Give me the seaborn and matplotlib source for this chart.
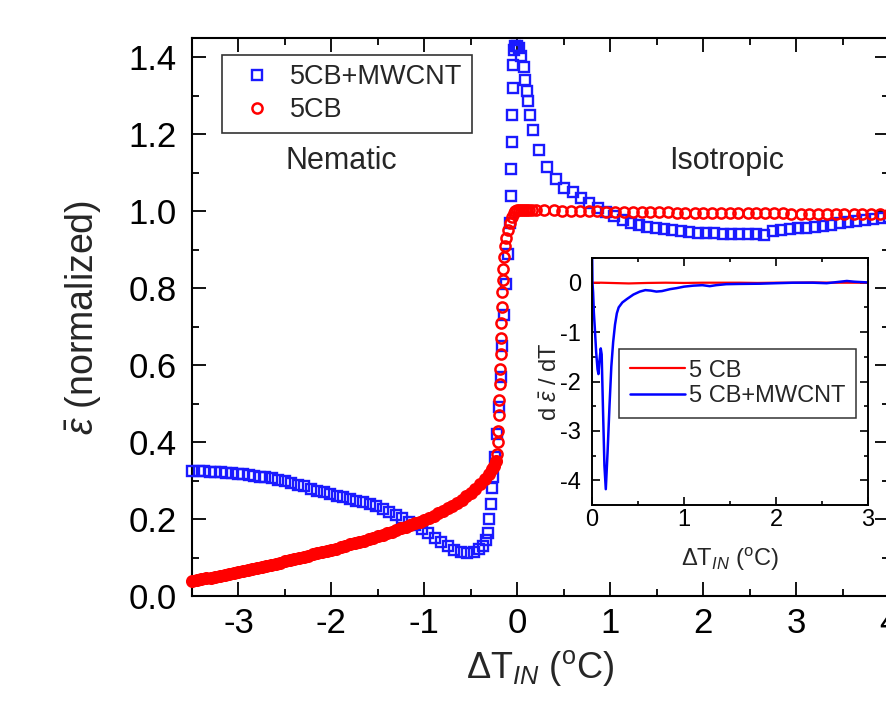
import numpy as np
import pandas as pd
import matplotlib
matplotlib.use("Agg")
import matplotlib.pyplot as plt
import seaborn as sns
from matplotlib.ticker import MultipleLocator, FormatStrFormatter

# ---------------- main panel data ----------------
cnt_x = [-3.50, -3.43, -3.37, -3.31, -3.25, -3.19, -3.13, -3.07, -3.01, -2.95,
         -2.89, -2.83, -2.77, -2.71, -2.64, -2.57, -2.50, -2.43, -2.36, -2.29,
         -2.22, -2.15, -2.08, -2.01, -1.94, -1.87, -1.80, -1.73, -1.66, -1.59,
         -1.52, -1.45, -1.38, -1.31, -1.24, -1.17, -1.10, -1.03, -0.96, -0.89,
         -0.82, -0.75, -0.68, -0.61, -0.54, -0.47, -0.41, -0.37, -0.34, -0.32,
         -0.30, -0.28, -0.27, -0.26, -0.24, -0.22, -0.20, -0.18, -0.16, -0.14,
         -0.12, -0.10, -0.08, -0.07, -0.065, -0.06, -0.055, -0.05, -0.045, -0.04,
         -0.02, 0.00, 0.02, 0.04, 0.068, 0.083, 0.10, 0.118, 0.14, 0.165,
         0.237, 0.32, 0.416, 0.506, 0.595, 0.686, 0.775, 0.865, 0.955, 1.044,
         1.134, 1.22, 1.31, 1.40, 1.49, 1.58, 1.67, 1.76, 1.85, 1.94,
         2.03, 2.12, 2.21, 2.30, 2.39, 2.48, 2.57, 2.66, 2.75, 2.84,
         2.93, 3.02, 3.11, 3.20, 3.29, 3.38, 3.47, 3.56, 3.65, 3.74,
         3.83, 3.92, 4.00]
cnt_y = [0.326, 0.326, 0.324, 0.323, 0.322, 0.321, 0.320, 0.319, 0.317, 0.316,
         0.314, 0.312, 0.310, 0.308, 0.306, 0.302, 0.299, 0.294, 0.289, 0.285,
         0.278, 0.274, 0.269, 0.264, 0.260, 0.256, 0.252, 0.247, 0.243, 0.238,
         0.233, 0.226, 0.219, 0.211, 0.202, 0.193, 0.184, 0.174, 0.164, 0.152,
         0.140, 0.129, 0.120, 0.114, 0.112, 0.115, 0.121, 0.130, 0.145, 0.165,
         0.200, 0.240, 0.280, 0.310, 0.360, 0.420, 0.490, 0.570, 0.650, 0.730,
         0.810, 0.890, 0.970, 1.040, 1.110, 1.180, 1.250, 1.320, 1.380, 1.420,
         1.430, 1.430, 1.424, 1.403, 1.374, 1.342, 1.313, 1.286, 1.249, 1.212,
         1.160, 1.114, 1.084, 1.060, 1.049, 1.034, 1.021, 1.008, 0.997, 0.987,
         0.978, 0.970, 0.965, 0.960, 0.957, 0.953, 0.950, 0.948, 0.946, 0.944,
         0.942, 0.942, 0.941, 0.941, 0.941, 0.941, 0.941, 0.939, 0.948, 0.950,
         0.953, 0.955, 0.957, 0.959, 0.962, 0.965, 0.968, 0.971, 0.974, 0.977,
         0.979, 0.982, 0.984]

# 5CB: densely sampled nematic part (points overlap into a solid band)
cb_dense_x = [-3.50, -3.45, -3.40, -3.35, -3.30, -3.25, -3.20, -3.15, -3.10, -3.05,
              -3.00, -2.95, -2.90, -2.85, -2.80, -2.75, -2.70, -2.65, -2.60, -2.55,
              -2.50, -2.45, -2.40, -2.35, -2.30, -2.25, -2.20, -2.15, -2.10, -2.05,
              -2.00, -1.95, -1.90, -1.85, -1.80, -1.75, -1.70, -1.65, -1.60, -1.55,
              -1.50, -1.45, -1.40, -1.35, -1.30, -1.25, -1.20, -1.15, -1.10, -1.05,
              -1.00, -0.95, -0.90, -0.85, -0.80, -0.75, -0.70, -0.65, -0.60, -0.55,
              -0.50, -0.45, -0.40, -0.35, -0.30, -0.27, -0.25, -0.23]
cb_dense_y = [0.039, 0.041, 0.043, 0.046, 0.048, 0.050, 0.053, 0.055, 0.057, 0.060,
              0.062, 0.065, 0.068, 0.070, 0.073, 0.076, 0.079, 0.081, 0.084, 0.087,
              0.090, 0.093, 0.096, 0.099, 0.102, 0.105, 0.108, 0.111, 0.114, 0.117,
              0.120, 0.123, 0.127, 0.130, 0.134, 0.137, 0.141, 0.144, 0.148, 0.151,
              0.155, 0.159, 0.163, 0.167, 0.171, 0.176, 0.180, 0.184, 0.189, 0.193,
              0.198, 0.203, 0.209, 0.215, 0.221, 0.228, 0.235, 0.242, 0.250, 0.259,
              0.268, 0.278, 0.290, 0.303, 0.318, 0.329, 0.338, 0.350]
# 5CB: transition and isotropic part
cb_x = [-0.22, -0.21, -0.205, -0.20, -0.195, -0.19, -0.185, -0.18, -0.175, -0.17,
        -0.165, -0.16, -0.155, -0.15, -0.14, -0.13, -0.12, -0.10, -0.08, -0.06,
        -0.04, -0.02, 0.00, 0.02, 0.04, 0.06, 0.08, 0.10, 0.13, 0.16,
        0.20, 0.29, 0.39, 0.48, 0.58, 0.67, 0.77, 0.86, 0.96, 1.05,
        1.15, 1.24, 1.34, 1.43, 1.53, 1.62, 1.72, 1.81, 1.91, 2.00,
        2.10, 2.19, 2.29, 2.38, 2.48, 2.57, 2.67, 2.76, 2.86, 2.95,
        3.05, 3.14, 3.24, 3.33, 3.43, 3.52, 3.62, 3.71, 3.81, 3.90, 4.00]
cb_y = [0.370, 0.400, 0.430, 0.470, 0.510, 0.550, 0.590, 0.630, 0.670, 0.710,
        0.750, 0.790, 0.820, 0.850, 0.880, 0.910, 0.930, 0.950, 0.970, 0.985,
        0.995, 1.000, 1.003, 1.004, 1.004, 1.004, 1.004, 1.004, 1.004, 1.003,
        1.003, 1.002, 1.002, 1.001, 1.001, 1.000, 1.000, 1.000, 0.999, 0.999,
        0.998, 0.998, 0.998, 0.997, 0.997, 0.997, 0.996, 0.996, 0.996, 0.996,
        0.995, 0.995, 0.995, 0.995, 0.994, 0.994, 0.994, 0.994, 0.994, 0.993,
        0.993, 0.993, 0.993, 0.993, 0.992, 0.992, 0.992, 0.992, 0.992, 0.992, 0.992]

# ---------------- inset data ----------------
d_cb_x = [0.00, 0.10, 0.20, 0.30, 0.40, 0.50, 0.60, 0.80, 1.00, 1.20, 1.40,
          1.60, 1.80, 2.00, 2.20, 2.40, 2.60, 2.80, 3.00]
d_cb_y = [0.00, 0.00, -0.005, -0.01, -0.015, -0.01, -0.005, 0.00, -0.005, 0.00, 0.00,
          0.00, -0.005, 0.00, 0.00, 0.005, 0.00, 0.00, 0.00]

d_cnt_x = [0.000, 0.005, 0.012, 0.020, 0.030, 0.045, 0.060, 0.070, 0.080, 0.095,
           0.105, 0.120, 0.135, 0.150, 0.170, 0.190, 0.210, 0.230, 0.250, 0.270,
           0.290, 0.330, 0.380, 0.450, 0.520, 0.580, 0.640, 0.700, 0.760, 0.850,
           0.920, 1.000, 1.100, 1.200, 1.280, 1.350, 1.460, 1.600, 1.830, 2.000,
           2.190, 2.400, 2.550, 2.650, 2.770, 2.850, 3.000]
d_cnt_y = [0.80, 0.00, -0.20, -0.60, -0.90, -1.40, -1.75, -1.85, -1.60, -1.33,
           -1.45, -2.60, -3.70, -4.18, -3.40, -2.50, -1.70, -1.20, -0.85, -0.62,
           -0.50, -0.40, -0.33, -0.24, -0.18, -0.15, -0.16, -0.18, -0.17, -0.13,
           -0.11, -0.08, -0.06, -0.05, -0.07, -0.05, -0.03, -0.025, -0.02, -0.01,
           0.00, 0.00, -0.01, 0.01, 0.035, 0.02, 0.005]

main_xticks = [-3, -2, -1, 0, 1, 2, 3, 4]
main_yticks = [0.0, 0.2, 0.4, 0.6, 0.8, 1.0, 1.2, 1.4]

# ---------------- style ----------------
sns.set_theme(style="ticks")
plt.rcParams["font.family"] = ["Liberation Sans", "DejaVu Sans"]
plt.rcParams["mathtext.fontset"] = "custom"
plt.rcParams["mathtext.rm"] = "Liberation Sans"
plt.rcParams["mathtext.it"] = "Liberation Sans:italic"
plt.rcParams["mathtext.bf"] = "Liberation Sans:bold"
plt.rcParams["axes.unicode_minus"] = False
plt.rcParams["axes.edgecolor"] = "black"
plt.rcParams["xtick.color"] = "black"
plt.rcParams["ytick.color"] = "black"

BLUE = "#1a1aff"
RED = "#ff0000"

W, H = 886, 701
fig = plt.figure(figsize=(W / 100, H / 100), dpi=100)
fig.patch.set_facecolor("white")

# main axes (right edge extends slightly past the figure, as in the reference)
ax = fig.add_axes([192 / W, 105 / H, 697 / W, 558 / H])
df_cnt = pd.DataFrame({"x": cnt_x, "y": cnt_y})
df_cb = pd.DataFrame({"x": cb_x, "y": cb_y})
df_cb_dense = pd.DataFrame({"x": cb_dense_x, "y": cb_dense_y})

sns.lineplot(data=df_cnt, x="x", y="y", ax=ax, estimator=None, sort=False,
             linestyle="", marker="s", markersize=6.8, markerfacecolor="none",
             markeredgecolor=BLUE, markeredgewidth=1.7, color=BLUE,
             label="5CB+MWCNT", clip_on=False, zorder=3)
sns.lineplot(data=df_cb_dense, x="x", y="y", ax=ax, estimator=None, sort=False,
             linestyle="", marker="o", markersize=7.6, markerfacecolor=RED,
             markeredgecolor=RED, markeredgewidth=1.8, color=RED,
             clip_on=False, zorder=4, legend=False)
sns.lineplot(data=df_cb, x="x", y="y", ax=ax, estimator=None, sort=False,
             linestyle="", marker="o", markersize=7.3, markerfacecolor="none",
             markeredgecolor=RED, markeredgewidth=1.8, color=RED,
             label="5CB", clip_on=False, zorder=4)

ax.set_xlim(-3.5, 4.0)
ax.set_ylim(0.0, 1.45)
ax.xaxis.set_minor_locator(MultipleLocator(0.5))
ax.yaxis.set_minor_locator(MultipleLocator(0.1))
ax.set_xticks(main_xticks)
ax.set_yticks(main_yticks)
ax.yaxis.set_major_formatter(FormatStrFormatter("%.1f"))
ax.tick_params(which="both", direction="in", top=True, right=True, width=1.3)
ax.tick_params(which="major", length=10, labelsize=25)
ax.tick_params(which="minor", length=5)
ax.tick_params(axis="x", pad=8)
ax.tick_params(axis="y", pad=11)
for s in ax.spines.values():
    s.set_linewidth(1.5)
    s.set_color("black")

ax.set_xlabel(r"$\Delta\mathrm{T}_{IN}\ (^{\mathrm{o}}\mathrm{C})$", fontsize=26)
ax.xaxis.set_label_coords(0.5, -(648 - 596) / 558)
ax.xaxis.label.set_va("top")
ax.set_ylabel(r"$\bar{\varepsilon}\ (\mathrm{normalized})$", fontsize=27)
ax.yaxis.set_label_coords(-(192 - 104) / 697, 0.5)

ax.text(-1.89, 1.11, "Nematic", fontsize=22, ha="center", va="baseline")
ax.text(2.25, 1.11, "Isotropic", fontsize=22, ha="center", va="baseline")

leg = ax.legend(loc="upper left", bbox_to_anchor=(222 / W, 1 - 55 / H),
                bbox_transform=fig.transFigure, frameon=True, fancybox=False,
                edgecolor="black", fontsize=19.5, handlelength=1.9,
                handletextpad=0.25, borderpad=0.35, labelspacing=0.25,
                borderaxespad=0)
leg.get_frame().set_linewidth(1.2)

# ---------------- inset ----------------
ax2 = fig.add_axes([592 / W, (H - 505) / H, 276 / W, 247 / H])
df_dcb = pd.DataFrame({"x": d_cb_x, "y": d_cb_y})
df_dcnt = pd.DataFrame({"x": d_cnt_x, "y": d_cnt_y})
sns.lineplot(data=df_dcb, x="x", y="y", ax=ax2, estimator=None, sort=False,
             color=RED, linewidth=1.6, label="5 CB")
sns.lineplot(data=df_dcnt, x="x", y="y", ax=ax2, estimator=None, sort=False,
             color="#0000ff", linewidth=1.8, label="5 CB+MWCNT")
ax2.set_xlim(0, 3)
ax2.set_ylim(-4.5, 0.5)
ax2.set_xticks([0, 1, 2, 3])
ax2.set_yticks([-4, -3, -2, -1, 0])
ax2.xaxis.set_minor_locator(MultipleLocator(0.5))
ax2.yaxis.set_minor_locator(MultipleLocator(0.5))
ax2.tick_params(which="both", direction="in", top=True, right=True, width=1.2)
ax2.tick_params(which="major", length=6, labelsize=17)
ax2.tick_params(which="minor", length=3)
ax2.tick_params(axis="x", pad=3)
ax2.tick_params(axis="y", pad=8)
for s in ax2.spines.values():
    s.set_linewidth(1.4)
    s.set_color("black")
ax2.set_xlabel(r"$\Delta\mathrm{T}_{IN}\ (^{\mathrm{o}}\mathrm{C})$", fontsize=17)
ax2.xaxis.set_label_coords(0.5, -(546 - 505) / 247)
ax2.xaxis.label.set_va("top")
ax2.set_ylabel(r"d $\bar{\varepsilon}$ / dT", fontsize=17)
ax2.yaxis.set_label_coords(-(592 - 562) / 276, 0.5)
leg2 = ax2.legend(loc="upper left", bbox_to_anchor=(619 / W, 1 - 349 / H),
                  bbox_transform=fig.transFigure, frameon=True, fancybox=False,
                  edgecolor="black", fontsize=17, handlelength=2.35,
                  handletextpad=0.15, borderpad=0.45, labelspacing=0.15,
                  borderaxespad=0)
leg2.get_frame().set_linewidth(1.1)

fig.savefig("out.png", dpi=100)
